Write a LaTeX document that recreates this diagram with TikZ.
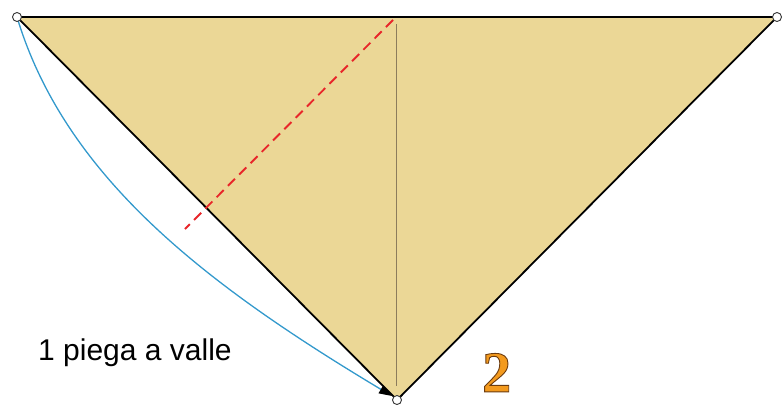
\documentclass[tikz,border=0pt]{standalone}
\usepackage{fontspec}
\setmainfont{Liberation Sans}
\newfontfamily\digitfont{Liberation Serif}
\usetikzlibrary{arrows.meta}
\definecolor{paper}{HTML}{EBD796}
\definecolor{creaseline}{HTML}{8C7C5C}
\definecolor{foldred}{HTML}{E8262A}
\definecolor{arrowblue}{HTML}{3399CC}
\definecolor{steporange}{HTML}{F39A1E}
\newcommand{\outlinedtext}[1]{\special{pdf:literal direct 0.42 0.23 0.06 RG 0.9 w 2 Tr}#1\special{pdf:literal direct 0 Tr}}
\tikzset{
  vertex/.style={circle, draw=black!80, fill=white, line width=0.9pt, inner sep=0pt, minimum size=9pt},
  edgeline/.style={line width=1.8pt, black},
  valley/.style={line width=1.9pt, foldred, dash pattern=on 10pt off 6pt},
  movearrow/.style={line width=1.3pt, arrowblue, -{Triangle[length=13pt,width=9pt,fill=black,color=black]}},
}
\begin{document}
\begin{tikzpicture}[x=1pt,y=-1pt]
\useasboundingbox (0,0) rectangle (783,405);
\coordinate (L) at (17,17);
\coordinate (R) at (777,17);
\coordinate (B) at (397,400);
\coordinate (Ctop) at (396,24);
\coordinate (Cbot) at (396,386);
\coordinate (Vs) at (393,20);
\coordinate (Ve) at (185,229);
\coordinate (Aend) at (392,396);
\fill[paper] (L) -- (R) -- (B) -- cycle;
\draw[creaseline, line width=0.9pt] (Ctop) -- (Cbot);
\draw[edgeline, line join=miter] (L) -- (R) -- (B) -- cycle;
\draw[valley] (Vs) -- (Ve);
\draw[movearrow] (L) .. controls (66,180) and (212,288) .. (Aend);
\node[vertex] (vL) at (L) {};
\node[vertex] (vR) at (R) {};
\node[vertex] (vB) at (B) {};
\node[anchor=base west, inner sep=0pt, font=\fontsize{30}{36}\selectfont] (label) at (38,360) {1 piega a valle};
\node[anchor=south west, inner sep=0pt, font=\digitfont\bfseries\fontsize{58}{60}\selectfont, text=steporange] (step) at (482,392) {\outlinedtext{2}};
\end{tikzpicture}
\end{document}
